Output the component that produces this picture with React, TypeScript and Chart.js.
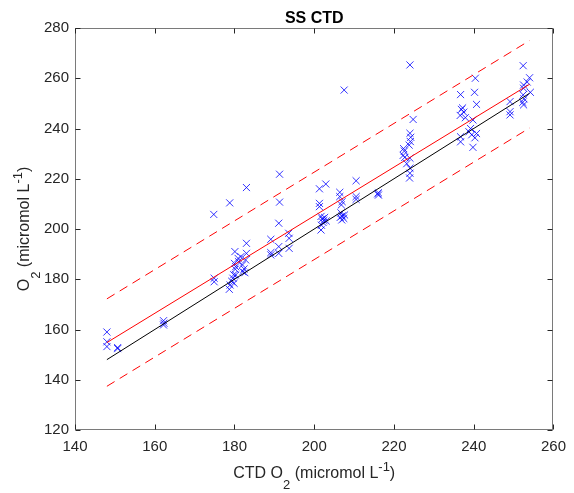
import React, { useEffect, useRef } from "react";
import { Chart, registerables } from "chart.js";

Chart.register(...registerables);

// CTD oxygen (x) and sample oxygen (y), micromol L-1
const ctdO2 = [
  148.0, 148.0, 148.0, 150.7, 150.7,
  162.2, 162.3, 162.2,
  174.8, 174.9, 174.9,
  178.8, 178.9, 178.7, 179.3, 179.6, 179.8, 180.1, 180.0, 180.3, 180.9, 181.0, 182.0, 182.1, 182.4, 182.6, 183.0, 183.0, 183.0, 182.8, 181.6, 180.2, 180.3, 179.9,
  189.1, 189.1, 189.1, 191.3, 191.3, 191.1, 191.1, 191.1, 193.6, 193.7, 193.7,
  201.3, 202.9, 201.3, 201.3, 201.7, 202.0, 202.4, 202.2, 201.8, 202.6, 201.7, 203.0,
  206.4, 206.4, 207.0, 206.8, 206.7, 207.0, 207.4, 206.9, 207.6, 206.5, 207.5,
  210.5, 210.5, 210.5,
  216.1, 216.1, 215.9,
  224.0, 224.8, 224.0, 224.2, 224.1, 223.8, 222.4, 222.6, 222.7, 224.0, 224.0, 224.0, 223.9, 223.2, 222.3,
  236.7, 236.9, 237.5, 236.6, 237.9, 237.2, 239.8, 236.7, 236.7, 238.8, 239.5, 240.3, 240.7, 239.8, 240.4, 240.2, 240.7, 239.2,
  249.1, 249.1, 249.1, 252.4, 254.0, 252.5, 252.5, 252.4, 252.6, 252.3, 252.5, 254.2, 253.4,
];
const ssO2 = [
  159.0, 155.1, 153.2, 152.8, 152.4,
  163.5, 162.5, 161.8,
  205.8, 180.4, 179.0,
  210.4, 177.7, 176.0, 179.2, 180.4, 181.8, 191.0, 186.3, 185.0, 188.3, 187.0, 185.7, 183.0, 184.1, 182.6, 216.5, 194.3, 190.3, 187.7, 189.0, 184.0, 181.7, 178.4,
  195.9, 190.6, 189.7, 221.8, 210.7, 202.3, 193.0, 190.3, 198.3, 196.3, 192.3,
  216.0, 217.9, 210.2, 208.9, 205.0, 204.0, 203.4, 202.6, 201.5, 204.6, 199.6, 203.2,
  214.6, 212.9, 210.9, 209.6, 206.4, 205.2, 204.2, 203.6, 205.6, 204.6, 255.3,
  219.2, 212.9, 211.8,
  214.4, 213.5, 214.0,
  265.3, 243.6, 238.1, 236.5, 234.8, 233.4, 232.0, 231.0, 228.5, 228.2, 224.2, 222.2, 220.3, 226.0, 229.3,
  253.5, 247.6, 246.5, 245.2, 244.3, 248.2, 243.4, 236.7, 234.7, 238.7, 237.5, 236.3, 238.0, 232.5, 260.0, 254.4, 249.6, 240.0,
  250.7, 246.7, 245.4, 265.0, 260.2, 257.3, 256.0, 253.4, 251.8, 250.4, 249.4, 254.4, 258.5,
];

// line end points
const lineX = [148, 254];
const oneToOneY = [148, 254];
const fitY = [154.8, 257.6];
const upperY = [172.2, 275.0];
const lowerY = [137.4, 240.2];

const xTicks = [140, 160, 180, 200, 220, 240, 260];
const yTicks = [120, 140, 160, 180, 200, 220, 240, 260, 280];

const titleText = "SS CTD";
const xLabelParts = [
  { t: "CTD O", sub: 0 },
  { t: "2", sub: 1 },
  { t: " (micromol L", sub: 0 },
  { t: "-1", sub: -1 },
  { t: ")", sub: 0 },
];
const yLabelParts = [
  { t: "O", sub: 0 },
  { t: "2", sub: 1 },
  { t: " (micromol L", sub: 0 },
  { t: "-1", sub: -1 },
  { t: ")", sub: 0 },
];

const FAMILY = '"Liberation Sans", Arial, Helvetica, sans-serif';
const TEXT = "#262626";

function pts(xs: number[], ys: number[]) {
  return xs.map((x, i) => ({ x, y: ys[i] }));
}

function drawRich(ctx: CanvasRenderingContext2D, parts: { t: string; sub: number }[], cx: number, baseY: number) {
  const main = 16;
  const small = 13;
  let total = 0;
  const widths: number[] = [];
  for (const p of parts) {
    ctx.font = `${p.sub === 0 ? main : small}px ${FAMILY}`;
    const w = ctx.measureText(p.t).width;
    widths.push(w);
    total += w;
  }
  let x = cx - total / 2;
  ctx.textAlign = "left";
  ctx.textBaseline = "alphabetic";
  parts.forEach((p, i) => {
    ctx.font = `${p.sub === 0 ? main : small}px ${FAMILY}`;
    const dy = p.sub === 1 ? 11 : p.sub === -1 ? -7 : 0;
    ctx.fillText(p.t, x, baseY + dy);
    x += widths[i];
  });
}

const framePlugin = {
  id: "matlabFrame",
  afterDraw(chart: any) {
    const { ctx, chartArea: a, scales } = chart;
    const xs = scales.x;
    const ys = scales.y;
    ctx.save();
    const L = Math.round(a.left) + 0.5;
    const R = Math.round(a.right) - 0.5;
    const T = Math.round(a.top) + 0.5;
    const B = Math.round(a.bottom) - 0.5;
    ctx.strokeStyle = "#7a7a7a";
    ctx.lineWidth = 1;
    ctx.strokeRect(L, T, R - L, B - T);
    ctx.strokeStyle = "#262626";
    ctx.beginPath();
    const tl = 5;
    for (const v of xTicks) {
      const px = Math.round(xs.getPixelForValue(v)) + 0.5;
      ctx.moveTo(px, B);
      ctx.lineTo(px, B - tl);
      ctx.moveTo(px, T);
      ctx.lineTo(px, T + tl);
    }
    for (const v of yTicks) {
      const py = Math.round(ys.getPixelForValue(v)) + 0.5;
      ctx.moveTo(L, py);
      ctx.lineTo(L + tl, py);
      ctx.moveTo(R, py);
      ctx.lineTo(R - tl, py);
    }
    ctx.stroke();
    ctx.fillStyle = "#000";
    ctx.font = `bold 16px ${FAMILY}`;
    ctx.textAlign = "center";
    ctx.textBaseline = "alphabetic";
    ctx.fillText(titleText, (a.left + a.right) / 2, 23);
    ctx.fillStyle = TEXT;
    drawRich(ctx, xLabelParts, (a.left + a.right) / 2, 478);
    ctx.save();
    ctx.translate(29, (a.top + a.bottom) / 2);
    ctx.rotate(-Math.PI / 2);
    drawRich(ctx, yLabelParts, 0, 0);
    ctx.restore();
    ctx.restore();
  },
};

export default function App() {
  const ref = useRef<HTMLCanvasElement | null>(null);
  useEffect(() => {
    if (!ref.current) return;
    const lineDs = (ys: number[], color: string, dash: number[]) => ({
      type: "line" as const,
      data: pts(lineX, ys),
      showLine: true,
      borderColor: color,
      borderWidth: 1,
      borderDash: dash,
      pointRadius: 0,
      fill: false,
      order: 1,
    });
    const chart = new Chart(ref.current, {
      type: "scatter",
      data: {
        datasets: [
          {
            data: pts(ctdO2, ssO2),
            pointStyle: "crossRot",
            pointRadius: 5,
            pointBorderWidth: 1,
            borderColor: "rgba(0,0,255,0.8)",
            backgroundColor: "rgba(0,0,255,0.8)",
            order: 5,
          } as any,
          lineDs(oneToOneY, "#000000", []),
          lineDs(fitY, "#ff0000", []),
          lineDs(upperY, "#ff0000", [9, 6]),
          lineDs(lowerY, "#ff0000", [9, 6]),
        ],
      },
      options: {
        responsive: false,
        animation: false,
        events: [],
        layout: { padding: { top: 28, right: 13, left: 0, bottom: 0 } },
        plugins: { legend: { display: false }, tooltip: { enabled: false }, title: { display: false } },
        scales: {
          x: {
            type: "linear",
            min: 140,
            max: 260,
            afterBuildTicks: (s: any) => {
              s.ticks = xTicks.map((v) => ({ value: v }));
            },
            afterFit: (s: any) => {
              s.height = 63;
            },
            grid: { display: false, drawTicks: false },
            border: { display: false },
            ticks: { font: { family: FAMILY, size: 15 }, color: TEXT, padding: 8, maxRotation: 0, autoSkip: false },
          },
          y: {
            type: "linear",
            min: 120,
            max: 280,
            afterBuildTicks: (s: any) => {
              s.ticks = yTicks.map((v) => ({ value: v }));
            },
            afterFit: (s: any) => {
              s.width = 75;
            },
            grid: { display: false, drawTicks: false },
            border: { display: false },
            ticks: { font: { family: FAMILY, size: 15 }, color: TEXT, padding: 6, autoSkip: false },
          },
        },
      } as any,
      plugins: [framePlugin],
    });
    return () => chart.destroy();
  }, []);
  return (
    <div style={{ position: "absolute", left: 0, top: 0, width: 574, height: 493, background: "#fff" }}>
      <canvas ref={ref} width={574} height={493} style={{ display: "block" }} />
    </div>
  );
}
